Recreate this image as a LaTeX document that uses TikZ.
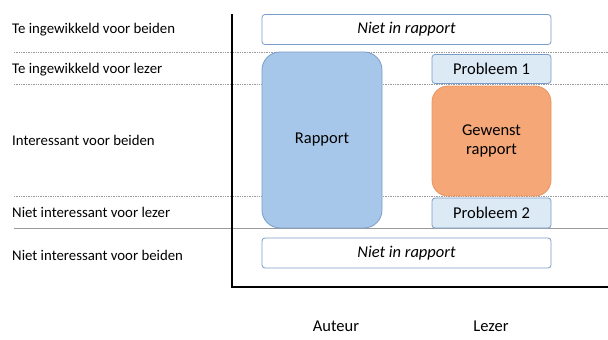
\documentclass[tikz,border=0pt]{standalone}
\usepackage{fontspec}
\setmainfont{Carlito}
\usepackage{xcolor}

\definecolor{blauwvul}{HTML}{A7C7EA}
\definecolor{blauwrand}{HTML}{7A9CC8}
\definecolor{lichtvul}{HTML}{DCEAF6}
\definecolor{oranjevul}{HTML}{F5A778}
\definecolor{oranjerand}{HTML}{E8955F}
\definecolor{lijngrijs}{HTML}{9A9A9A}

\tikzset{
    rij/.style={anchor=west, inner sep=0pt, text=black, font=\fontsize{14.8}{17}\selectfont},
    vak/.style={draw=blauwrand, rounded corners=3pt, line width=0.8pt, inner sep=0pt},
    scheiding/.style={lijngrijs, densely dotted, line width=0.7pt}
}

\begin{document}
\begin{tikzpicture}[x=1pt, y=-1pt, font=\fontsize{16.5}{19}\selectfont]

        \useasboundingbox (0,0) rectangle (608,340);

        \coordinate (l1) at (14,52);
        \coordinate (l2) at (14,84);
        \coordinate (l3) at (14,196);
        \coordinate (l4) at (14,228);

        % Scheidingslijnen
        \foreach \i in {1,2,3}{
            \draw[scheiding] (l\i) -- ++(594,0);
        }
        \draw[lijngrijs, line width=0.5pt] (l4) -- ++(594,0);

        % Rijen
        \node[rij] (r1) at (12,30) {Te ingewikkeld voor beiden};
        \node[rij] (r2) at (12,70) {Te ingewikkeld voor lezer};
        \node[rij] (r3) at (12,140) {Interessant voor beiden};
        \node[rij] (r4) at (12,212) {Niet interessant voor lezer};
        \node[rij] (r5) at (12,255) {Niet interessant voor beiden};

        % Vakken
        \node[vak, fill=white, minimum width=289pt, minimum height=30pt] (niet1) at (406.5,29.5) {\itshape Niet in rapport};
        \node[vak, fill=blauwvul, rounded corners=18pt, minimum width=120pt, minimum height=176pt] (rapport) at (322,140) {Rapport};
        \node[vak, fill=lichtvul, minimum width=119pt, minimum height=29pt] (prob1) at (491.5,69) {Probleem 1};
        \node[vak, draw=oranjerand, fill=oranjevul, rounded corners=16pt, minimum width=119pt, minimum height=110pt, align=center] (gewenst) at (491.5,141) {Gewenst\\rapport};
        \node[vak, fill=lichtvul, minimum width=119pt, minimum height=30pt] (prob2) at (491.5,213) {Probleem 2};
        \node[vak, fill=white, minimum width=289pt, minimum height=30pt] (niet2) at (406.5,253) {\itshape Niet in rapport};

        % Assen
        \coordinate (top) at (232,14);
        \coordinate (hoek) at (232,287);
        \coordinate (eind) at (608,287);
        \draw[line width=1.4pt] (top) -- (hoek) -- (eind);

        \node[inner sep=0pt] (auteur) at (336,326) {Auteur};
        \node[inner sep=0pt] (lezer) at (491,326) {Lezer};

\end{tikzpicture}
\end{document}
